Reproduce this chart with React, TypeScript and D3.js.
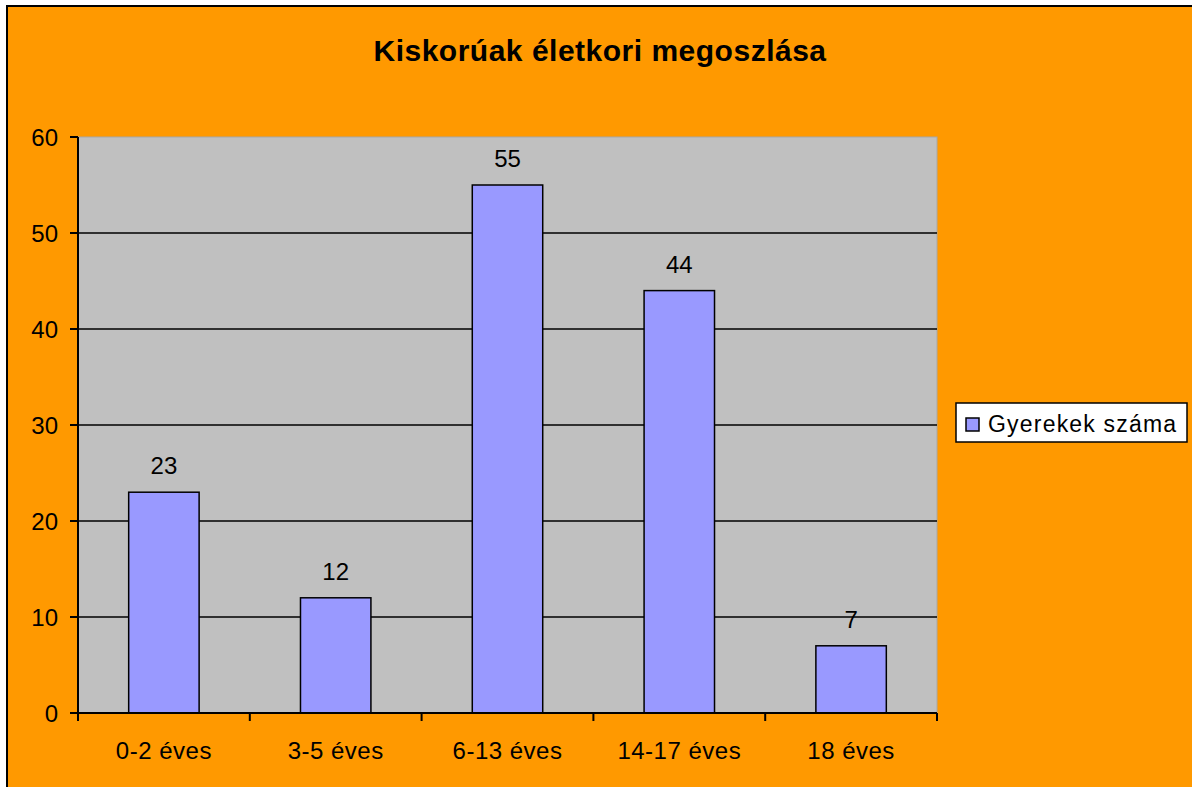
import React from 'react';
import * as d3 from 'd3';

const categories = ['0-2 éves', '3-5 éves', '6-13 éves', '14-17 éves', '18 éves'];
const values = [23, 12, 55, 44, 7];
const yTicks = [0, 10, 20, 30, 40, 50, 60];
const seriesName = 'Gyerekek száma';
const title = 'Kiskorúak életkori megoszlása';

const W = 1192;
const H = 787;
const plot = { left: 78, right: 937, top: 137, bottom: 713 };
const font = 'Arial, "Liberation Sans", sans-serif';

export default function App() {
  const x = d3
    .scaleBand<string>()
    .domain(categories)
    .range([plot.left, plot.right])
    .paddingInner(0.59)
    .paddingOuter(0.295);
  const y = d3.scaleLinear().domain([0, 60]).range([plot.bottom, plot.top]);
  const step = (plot.right - plot.left) / categories.length;

  return (
    <svg
      width={W}
      height={H}
      style={{ position: 'fixed', left: 0, top: 0, display: 'block' }}
      fontFamily={font}
    >
      <rect x={0} y={0} width={W} height={H} fill="#fff" />
      <rect x={7} y={6} width={W + 20} height={H + 20} fill="#FF9900" stroke="#000" strokeWidth={2} />

      <text x={600} y={61} textAnchor="middle" fontSize={30} fontWeight="bold" letterSpacing={0.5} fill="#000">
        {title}
      </text>

      <rect
        x={plot.left}
        y={plot.top}
        width={plot.right - plot.left}
        height={plot.bottom - plot.top}
        fill="#C0C0C0"
        stroke="#a8a8a8"
        strokeWidth={1}
      />

      {yTicks.slice(1, -1).map(t => (
        <line key={t} x1={plot.left} x2={plot.right} y1={y(t)} y2={y(t)} stroke="#000" strokeWidth={1.5} />
      ))}

      {values.map((v, i) => (
        <g key={categories[i]}>
          <rect
            x={x(categories[i])}
            y={y(v)}
            width={x.bandwidth()}
            height={y(0) - y(v)}
            fill="#9999FF"
            stroke="#000"
            strokeWidth={1.5}
          />
          <text
            x={(x(categories[i]) as number) + x.bandwidth() / 2}
            y={y(v) - 18}
            textAnchor="middle"
            fontSize={24}
            fill="#000"
          >
            {v}
          </text>
        </g>
      ))}

      {/* y axis */}
      <line x1={plot.left} x2={plot.left} y1={plot.top} y2={plot.bottom} stroke="#000" strokeWidth={2} />
      {yTicks.map(t => (
        <g key={t}>
          <line x1={plot.left - 8} x2={plot.left} y1={y(t)} y2={y(t)} stroke="#000" strokeWidth={2} />
          <text x={58} y={y(t) + 8.5} textAnchor="end" fontSize={24} fill="#000">
            {t}
          </text>
        </g>
      ))}

      {/* x axis */}
      <line x1={plot.left - 8} x2={plot.right} y1={plot.bottom} y2={plot.bottom} stroke="#000" strokeWidth={2} />
      {d3.range(categories.length + 1).map(i => (
        <line
          key={i}
          x1={plot.left + i * step}
          x2={plot.left + i * step}
          y1={plot.bottom}
          y2={plot.bottom + 8}
          stroke="#000"
          strokeWidth={2}
        />
      ))}
      {categories.map(c => (
        <text
          key={c}
          x={(x(c) as number) + x.bandwidth() / 2}
          y={759}
          textAnchor="middle"
          fontSize={24}
          letterSpacing={0.5}
          fill="#000"
        >
          {c}
        </text>
      ))}

      {/* legend */}
      <rect x={956} y={403} width={231} height={39} fill="#fff" stroke="#000" strokeWidth={1.5} />
      <rect x={966} y={418} width={13} height={13} fill="#9999FF" stroke="#000" strokeWidth={1.5} />
      <text x={988} y={432} fontSize={23} letterSpacing={1.2} fill="#000">
        {seriesName}
      </text>
    </svg>
  );
}
